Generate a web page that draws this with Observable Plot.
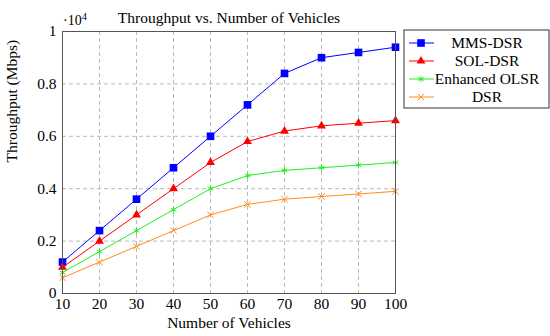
<!DOCTYPE html>
<html><head><meta charset="utf-8">
<script src="https://cdn.jsdelivr.net/npm/d3@7"></script>
<script src="https://cdn.jsdelivr.net/npm/@observablehq/plot@0.6"></script>
<style>body{margin:0;background:#fff}</style>
</head><body><div id="chart"></div>
<script>
const vehicles = [10, 20, 30, 40, 50, 60, 70, 80, 90, 100];
const seriesNames = ["MMS-DSR", "SOL-DSR", "Enhanced OLSR", "DSR"];
const mmsDsr = [1200, 2400, 3600, 4800, 6000, 7200, 8400, 9000, 9200, 9400];
const solDsr = [1000, 2000, 3000, 4000, 5000, 5800, 6200, 6400, 6500, 6600];
const enhancedOlsr = [800, 1600, 2400, 3200, 4000, 4500, 4700, 4800, 4900, 5000];
const dsr = [600, 1200, 1800, 2400, 3000, 3400, 3600, 3700, 3800, 3900];
const yTicks = [0, 2000, 4000, 6000, 8000, 10000];
const colors = ["#0000ff", "#ff0000", "#22ee22", "#ff8c1a"];
const symbols = ["square", "triangle", "asterisk", "times"];

const allValues = [mmsDsr, solDsr, enhancedOlsr, dsr];
const data = allValues.flatMap((vals, i) => vals.map((v, j) => ({series: seriesNames[i], x: vehicles[j], y: v, idx: i})));

const font = "'Liberation Serif', serif";
const fs = 15.5;
const marks = [
  Plot.gridX(vehicles, {stroke: "#bbb", strokeOpacity: 1, strokeDasharray: "4,3"}),
  Plot.gridY(yTicks, {stroke: "#bbb", strokeOpacity: 1, strokeDasharray: "4,3"}),
  Plot.axisX(vehicles, {tickSize: 0, tickPadding: 4, fontSize: fs, tickFormat: d => String(d), label: null}),
  Plot.axisY(yTicks, {tickSize: 0, tickPadding: 6, fontSize: fs, tickFormat: d => String(d / 10000), label: null}),
];
seriesNames.forEach((name, i) => {
  const rows = data.filter(d => d.idx === i);
  marks.push(Plot.line(rows, {x: "x", y: "y", stroke: colors[i], strokeWidth: 1}));
  if (symbols[i] === "square" || symbols[i] === "triangle") {
    marks.push(Plot.dot(rows, {x: "x", y: "y", symbol: symbols[i], fill: colors[i], r: symbols[i] === "square" ? 4.3 : 3.3}));
  } else {
    marks.push(Plot.dot(rows, {x: "x", y: "y", symbol: symbols[i], stroke: colors[i], strokeWidth: 1, r: 3}));
  }
});
marks.push(Plot.frame({stroke: "#555", strokeWidth: 1}));
marks.push(Plot.text(["Throughput vs. Number of Vehicles"], {frameAnchor: "top", dy: -20, fontSize: fs}));
marks.push(Plot.text(["Number of Vehicles"], {frameAnchor: "bottom", dy: 34, fontSize: fs}));
marks.push(Plot.text(["Throughput (Mbps)"], {frameAnchor: "left", dx: -50, rotate: -90, fontSize: fs}));

const chart = Plot.plot({
  width: 550, height: 336,
  marginLeft: 62, marginRight: 155, marginTop: 31, marginBottom: 43,
  style: {fontFamily: font, fontSize: fs + "px", background: "white", color: "black", overflow: "visible"},
  x: {domain: [10, 100]},
  y: {domain: [0, 10000]},
  marks
});
document.getElementById("chart").appendChild(chart);

// exponent label and legend
const svg = d3.select(chart);
const xs = chart.scale("x"), ys = chart.scale("y");
const ex = svg.append("text").attr("x", xs.apply(10) + 1).attr("y", ys.apply(10000) - 6)
  .attr("text-anchor", "start").attr("font-family", font).attr("font-size", 14).attr("fill", "black");
ex.append("tspan").text("·10");
ex.append("tspan").attr("font-size", 10.5).attr("dy", -5).text("4");

const lg = svg.append("g").attr("font-family", font).attr("font-size", fs);
const lx = 404, ly = 30, lw = 145, lh = 78;
lg.append("rect").attr("x", lx).attr("y", ly).attr("width", lw).attr("height", lh)
  .attr("fill", "white").attr("stroke", "#333").attr("stroke-width", 1);
seriesNames.forEach((name, i) => {
  const cy = ly + 13 + i * 18;
  lg.append("line").attr("x1", lx + 5).attr("x2", lx + 30).attr("y1", cy).attr("y2", cy)
    .attr("stroke", colors[i]).attr("stroke-width", 1);
  const sym = {square: d3.symbolSquare, triangle: d3.symbolTriangle, asterisk: d3.symbolAsterisk, times: d3.symbolTimes}[symbols[i]];
  const size = symbols[i] === "square" ? 58 : symbols[i] === "triangle" ? 34 : 28;
  const p = lg.append("path").attr("d", d3.symbol(sym, size)()).attr("transform", `translate(${lx + 17},${cy})`);
  if (i < 2) p.attr("fill", colors[i]); else p.attr("fill", "none").attr("stroke", colors[i]).attr("stroke-width", 1);
  lg.append("text").attr("x", lx + 83).attr("y", cy).attr("dy", "0.35em").attr("text-anchor", "middle").attr("fill", "black").text(name);
});
</script></body></html>
